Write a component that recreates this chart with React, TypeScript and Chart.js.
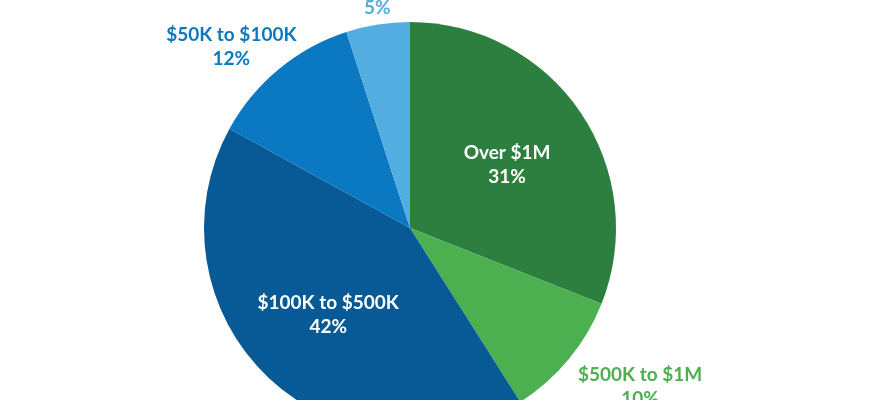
import { useEffect, useRef } from "react";
import { Chart, registerables } from "chart.js";

Chart.register(...registerables);

const categories = ["Over $1M", "$500K to $1M", "$100K to $500K", "$50K to $100K", "Under $50K"];
const shares = [31, 10, 42, 12, 5];
const sliceColors = ["#2C7F3F", "#4CAF50", "#075A96", "#0B79C1", "#52ADE0"];
const labelColors = ["#FFFFFF", "#4CAF50", "#FFFFFF", "#0B79C1", "#52ADE0"];
// radial factor of the label centre, plus a small nudge in px
const labelPlacement = [
  { r: 0.57, dx: 0, dy: 3 },
  { r: 1.21, dx: 38, dy: 0 },
  { r: 0.58, dx: 0, dy: 0 },
  { r: 1.14, dx: -29, dy: 0 },
  { r: 1.14, dx: 4, dy: 0 },
];

const sliceLabels = {
  id: "sliceLabels",
  afterDatasetsDraw(chart) {
    const { ctx } = chart;
    const meta = chart.getDatasetMeta(0);
    ctx.save();
    ctx.font = "bold 19px Lato";
    ctx.textAlign = "center";
    ctx.textBaseline = "middle";
    meta.data.forEach((arc, i) => {
      const { x, y, startAngle, endAngle, outerRadius } = arc.getProps(
        ["x", "y", "startAngle", "endAngle", "outerRadius"],
        true
      );
      const mid = (startAngle + endAngle) / 2;
      const p = labelPlacement[i];
      const cx = x + Math.cos(mid) * outerRadius * p.r + p.dx;
      const cy = y + Math.sin(mid) * outerRadius * p.r + p.dy;
      ctx.fillStyle = labelColors[i];
      ctx.fillText(categories[i], cx, cy - 12);
      ctx.fillText(`${shares[i]}%`, cx, cy + 12);
    });
    ctx.restore();
  },
};

const App = () => {
  const chartRef = useRef(null);
  const chartInstance = useRef(null);

  useEffect(() => {
    document.body.style.margin = "0";
    if (chartRef.current) {
      if (chartInstance.current) {
        chartInstance.current.destroy();
      }
      chartInstance.current = new Chart(chartRef.current.getContext("2d"), {
        type: "pie",
        data: {
          labels: categories,
          datasets: [
            {
              data: shares,
              backgroundColor: sliceColors,
              borderWidth: 0,
            },
          ],
        },
        options: {
          responsive: false,
          animation: false,
          layout: { padding: { left: 0, right: 50, top: 22, bottom: 22 } },
          plugins: {
            legend: { display: false },
            tooltip: { enabled: false },
          },
        },
        plugins: [sliceLabels],
      });
    }
    return () => {
      if (chartInstance.current) {
        chartInstance.current.destroy();
        chartInstance.current = null;
      }
    };
  }, []);

  return (
    <div style={{ position: "relative", width: 870, height: 400, overflow: "hidden", background: "#fff" }}>
      <canvas
        ref={chartRef}
        width={870}
        height={456}
        style={{ position: "absolute", top: 0, left: 0, width: 870, height: 456 }}
      />
    </div>
  );
};

export default App;
